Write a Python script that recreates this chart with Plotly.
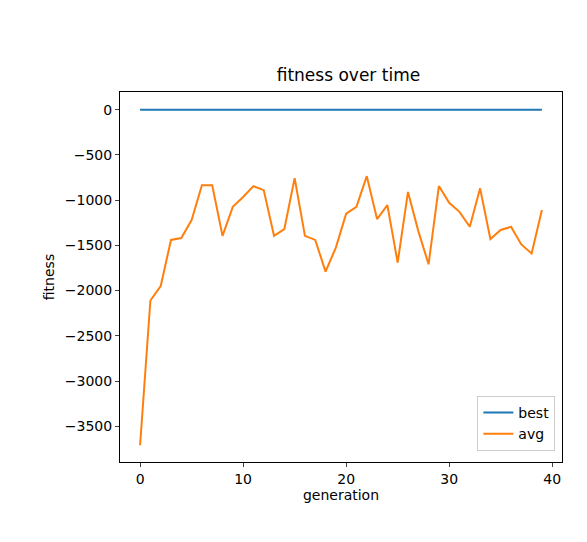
import plotly.graph_objects as go

generations = list(range(40))
best = [0] * 40
avg = [-3710, -2110, -1950, -1440, -1420, -1220, -835, -835, -1395, -1075,
       -965, -845, -890, -1395, -1320, -757, -1395, -1440, -1790, -1525,
       -1150, -1075, -735, -1210, -1055, -1690, -910, -1340, -1710, -845,
       -1030, -1130, -1295, -870, -1430, -1330, -1295, -1490, -1590, -1110]

fig = go.Figure()
fig.add_trace(go.Scatter(x=generations, y=best, mode="lines", name="best",
                         line=dict(color="#1f77b4", width=2)))
fig.add_trace(go.Scatter(x=generations, y=avg, mode="lines", name="avg",
                         line=dict(color="#ff7f0e", width=2)))

axis = dict(showgrid=False, zeroline=False, showline=True, linecolor="black",
            linewidth=1, mirror=True, ticks="outside", ticklen=4,
            tickfont=dict(size=14, color="black"))
fig.update_layout(
    width=587, height=542, plot_bgcolor="white", paper_bgcolor="white",
    margin=dict(l=112, r=33, t=84, b=88),
    font=dict(family="DejaVu Sans", color="black"),
    title=dict(text="fitness over time", x=0.58, xanchor="center", y=0.876,
               yanchor="middle", font=dict(size=17)),
    xaxis=dict(axis, range=[-1.95, 40.95], tickvals=[0, 10, 20, 30, 40],
               title=dict(text="generation", font=dict(size=14), standoff=4)),
    yaxis=dict(axis, range=[-3895, 195],
               tickvals=[0, -500, -1000, -1500, -2000, -2500, -3000, -3500],
               ticktext=["0", "−500", "−1000", "−1500", "−2000", "−2500", "−3000", "−3500"],
               title=dict(text="fitness", font=dict(size=14), standoff=6)),
    legend=dict(x=0.985, y=0.03, xanchor="right", yanchor="bottom",
                bgcolor="white", bordercolor="#cccccc", borderwidth=1,
                font=dict(size=14)),
)
fig.write_html("out.html")
